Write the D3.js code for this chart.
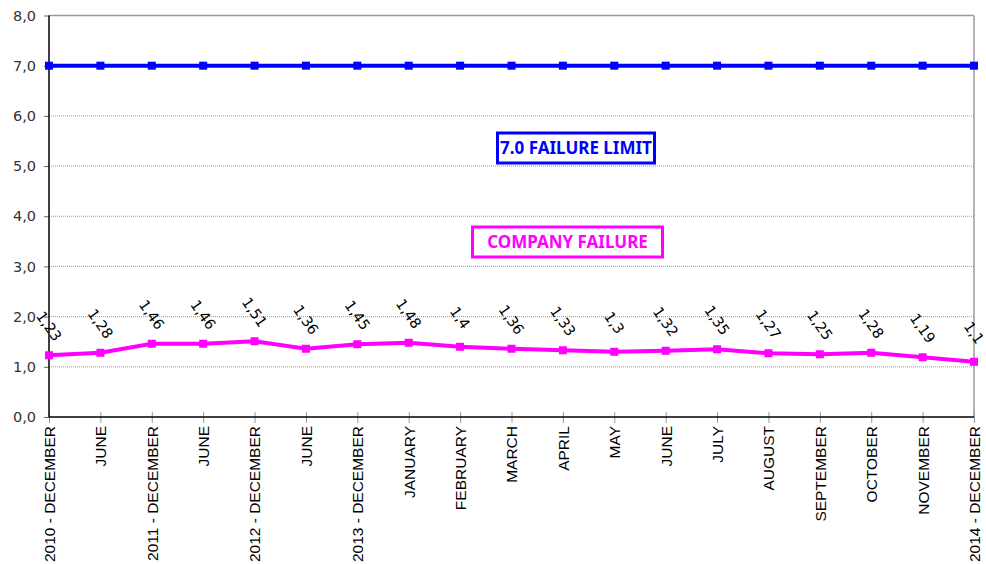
<!DOCTYPE html>
<html>
<head>
<meta charset="utf-8">
<script src="https://cdn.jsdelivr.net/npm/d3@7"></script>
<style>
  body { margin: 0; background: #fff; }
  svg { display: block; }
</style>
</head>
<body>
<div id="chart"></div>
<script>
// Chart data
var categories = ['2010 - DECEMBER', 'JUNE', '2011 - DECEMBER', 'JUNE', '2012 - DECEMBER', 'JUNE',
  '2013 - DECEMBER', 'JANUARY', 'FEBRUARY', 'MARCH', 'APRIL', 'MAY', 'JUNE', 'JULY',
  'AUGUST', 'SEPTEMBER', 'OCTOBER', 'NOVEMBER', '2014 - DECEMBER']
var companyFailure = [1.23, 1.28, 1.46, 1.46, 1.51, 1.36, 1.45, 1.48, 1.4, 1.36, 1.33, 1.3,
  1.32, 1.35, 1.27, 1.25, 1.28, 1.19, 1.1]
var failureLimit = categories.map(() => 7.0)
var yTicks = [0, 1, 2, 3, 4, 5, 6, 7, 8]

var svgWidth = 986
var svgHeight = 564
var margin = { top: 15.5, right: 12, bottom: 147, left: 49 }
var width = svgWidth - margin.left - margin.right
var height = svgHeight - margin.top - margin.bottom

var svg = d3.select('#chart').append('svg')
  .attr('width', svgWidth)
  .attr('height', svgHeight)

var g = svg.append('g')
  .attr('transform', `translate(${margin.left}, ${margin.top})`)

var x = d3.scalePoint()
  .domain(categories.map((c, i) => i))
  .range([0, width])

var y = d3.scaleLinear()
  .domain([0, 8])
  .range([height, 0])

// gridlines
g.selectAll('.grid')
  .data(yTicks.filter(t => t > 0 && t < 8))
  .enter().append('line')
  .attr('x1', 0).attr('x2', width)
  .attr('y1', d => y(d)).attr('y2', d => y(d))
  .attr('stroke', '#9a9a9a')
  .attr('stroke-width', 1)
  .attr('stroke-dasharray', '1,1')

// top & right frame
g.append('line').attr('x1', 0).attr('x2', width).attr('y1', 0).attr('y2', 0)
  .attr('stroke', '#9a9a9a').attr('stroke-width', 1.5)
g.append('line').attr('x1', width).attr('x2', width).attr('y1', 0).attr('y2', height)
  .attr('stroke', '#9a9a9a').attr('stroke-width', 1.5)

// x axis
var xAxis = g.append('g')
  .attr('transform', `translate(0, ${height})`)
  .call(d3.axisBottom(x).tickSize(6).tickFormat(i => categories[i]))
xAxis.select('.domain').remove()
xAxis.selectAll('.tick line')
  .attr('y1', -5).attr('y2', 6)
  .attr('stroke', '#999')
xAxis.selectAll('.tick text')
  .attr('transform', 'rotate(-90)')
  .attr('x', -9)
  .attr('y', 0)
  .attr('dy', '0.35em')
  .style('text-anchor', 'end')
  .style('font-family', '"Liberation Sans", Arial, sans-serif')
  .style('font-size', '15.5px')
  .attr('fill', '#000')

// y axis
var yAxis = g.append('g')
  .call(d3.axisLeft(y).tickValues(yTicks).tickSize(5)
    .tickFormat(d => d3.format('.1f')(d).replace('.', ',')))
yAxis.select('.domain').remove()
yAxis.selectAll('.tick line').attr('stroke', '#666')
yAxis.selectAll('.tick text')
  .attr('x', -13)
  .style('font-family', '"DejaVu Sans", sans-serif')
  .style('font-size', '14.5px')
  .attr('fill', '#333')

// axis lines
g.append('line').attr('x1', 0).attr('x2', width).attr('y1', height).attr('y2', height)
  .attr('stroke', '#000').attr('stroke-width', 1.5)
g.append('line').attr('x1', 0).attr('x2', 0).attr('y1', 0).attr('y2', height)
  .attr('stroke', '#000').attr('stroke-width', 1.5)

// series
var line = d3.line()
  .x((d, i) => x(i))
  .y(d => y(d))

function drawSeries(values, color) {
  g.append('path')
    .datum(values)
    .attr('d', line)
    .attr('fill', 'none')
    .attr('stroke', color)
    .attr('stroke-width', 4)
  g.selectAll(null)
    .data(values)
    .enter().append('rect')
    .attr('x', (d, i) => x(i) - 4)
    .attr('y', d => y(d) - 4)
    .attr('width', 8)
    .attr('height', 8)
    .attr('fill', color)
}

drawSeries(failureLimit, '#0000ff')
drawSeries(companyFailure, '#ff00ff')

// data labels
g.selectAll('.dlabel')
  .data(companyFailure)
  .enter().append('text')
  .attr('transform', (d, i) => `translate(${x(i)}, ${y(d) - 29}) rotate(55)`)
  .attr('text-anchor', 'middle')
  .attr('dy', '0.35em')
  .style('font-family', '"DejaVu Sans", sans-serif')
  .style('font-size', '14.5px')
  .attr('fill', '#000')
  .text(d => String(d).replace('.', ','))

// legend boxes
function legendBox(label, color, cx, cy, w, h) {
  var lg = svg.append('g')
  lg.append('rect')
    .attr('x', cx - w / 2).attr('y', cy - h / 2)
    .attr('width', w).attr('height', h)
    .attr('fill', '#fff')
    .attr('stroke', color)
    .attr('stroke-width', 3)
  lg.append('text')
    .attr('x', cx).attr('y', cy)
    .attr('dy', '0.36em')
    .attr('text-anchor', 'middle')
    .style('font-family', '"Noto Sans", sans-serif')
    .style('font-weight', 'bold')
    .style('font-size', '17px')
    .attr('fill', color)
    .text(label)
}

legendBox('7.0 FAILURE LIMIT', '#0000ff', 576, 148, 157, 30)
legendBox('COMPANY FAILURE', '#ff00ff', 567.5, 242, 190, 30)
</script>
</body>
</html>
